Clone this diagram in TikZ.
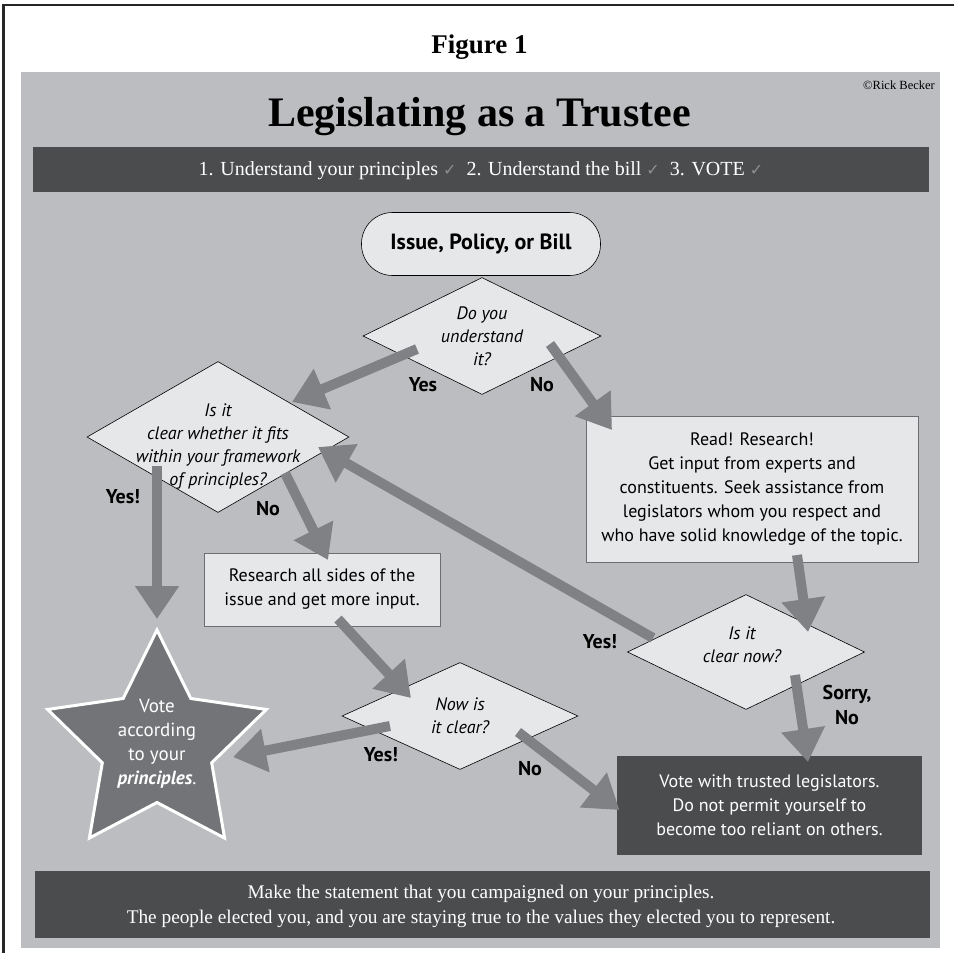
\documentclass[tikz,border=0pt]{standalone}
\usepackage{fontspec}
\setmainfont{Liberation Serif}
\newfontfamily\mysans{PT Sans}
\newfontfamily\chkfont{DejaVu Sans}
\usetikzlibrary{arrows.meta,shapes.geometric,calc}
\definecolor{panel}{HTML}{BCBDC0}
\definecolor{darkbar}{HTML}{4B4C4E}
\definecolor{lightbox}{HTML}{E6E7E8}
\definecolor{arrowgray}{HTML}{808184}
\definecolor{stargray}{HTML}{737477}
\definecolor{checkgray}{HTML}{8E8F92}
\definecolor{boxedge}{HTML}{6D6E71}
\newcommand{\chk}{{\chkfont\fontsize{16}{16}\selectfont\color{checkgray}\char"2713}}
\begin{document}
\begin{tikzpicture}[x=1pt,y=-1pt,
  decision/.style={diamond, draw=black, line width=0.6pt, fill=lightbox, inner sep=0pt},
  stepbox/.style={rectangle, draw=boxedge, line width=0.8pt, fill=lightbox, inner sep=0pt},
  darkbox/.style={rectangle, fill=darkbar, inner sep=0pt},
  txt/.style={align=center, inner sep=0pt, font=\mysans\fontsize{18}{24}\selectfont},
  itxt/.style={align=center, inner sep=0pt, font=\mysans\itshape\fontsize{18}{23}\selectfont},
  lbl/.style={inner sep=0pt, font=\mysans\bfseries\fontsize{20}{25}\selectfont},
  flow/.style={draw=arrowgray, line width=10pt, -{Triangle[length=33pt,width=42pt]}},
]
\useasboundingbox (0,0) rectangle (954,953);
\fill[white] (0,0) rectangle (954,953);
% frame
\draw[line width=2.5pt, black!85] (3.5,953) -- (3.5,5) -- (954,5);
% panel
\fill[panel] (21,72) rectangle (940,948);
\node[inner sep=0pt, anchor=base, font=\bfseries\fontsize{27}{27}\selectfont] (fig) at (479.5,53) {Figure 1};
\node[inner sep=0pt, anchor=base east, font=\fontsize{12.5}{12.5}\selectfont] (copy) at (935,89) {©Rick Becker};
\node[inner sep=0pt, anchor=base, font=\bfseries\fontsize{42}{42}\selectfont] (title) at (479.5,126) {Legislating as a Trustee};
% top bar
\node[darkbox, minimum width=896pt, minimum height=45pt] (steps) at (481,169.5) {};
\node[inner sep=0pt, anchor=base, text=white, font=\fontsize{20}{20}\selectfont] (stepst) at (481,175)
  {1. Understand your principles \chk\ \ 2. Understand the bill \chk\ \ 3. VOTE \chk};
% bottom bar
\node[darkbox, minimum width=895pt, minimum height=67pt] (stmt) at (482.5,904.5) {};
\node[align=center, inner sep=0pt, anchor=base, text=white, font=\fontsize{19.3}{25}\selectfont] (stmtt) at (481,923)
  {Make the statement that you campaigned on your principles.\\
   The people elected you, and you are staying true to the values they elected you to represent.};

% flow nodes
\node[rectangle, rounded corners=31pt, draw=black, line width=0.6pt, fill=lightbox,
      minimum width=239pt, minimum height=63pt, inner sep=0pt,
      font=\mysans\bfseries\fontsize{22}{22}\selectfont] (issue) at (481,244) {Issue, Policy, or Bill};
\node[decision, minimum width=238pt, minimum height=117pt] (d1) at (482,336) {};
\node[itxt] (d1t) at (d1.center) {Do you\\understand\\it?};
\node[decision, minimum width=262pt, minimum height=151pt] (d2) at (218,437) {};
\node[itxt] (d2t) at ([yshift=-9pt]d2.center) {Is it\\clear whether it fits\\within your framework\\of principles?};
\node[stepbox, minimum width=236pt, minimum height=73pt] (research) at (322,589.5) {};
\node[txt] (researcht) at (research.center) {Research all sides of the\\issue and get more input.};
\node[decision, minimum width=236pt, minimum height=107pt] (d3) at (460,716) {};
\node[itxt] (d3t) at (d3.center) {Now is\\it clear?};
\node[stepbox, minimum width=332pt, minimum height=146pt] (read) at (752,489) {};
\node[txt] (readt) at (read.center) {Read! Research!\\Get input from experts and\\constituents. Seek assistance from\\legislators whom you respect and\\who have solid knowledge of the topic.};
\node[decision, minimum width=237pt, minimum height=115pt] (d4) at (746,652) {};
\node[itxt] (d4t) at ([shift={(-4,-7)}]d4.center) {Is it\\clear now?};
\node[darkbox, minimum width=305pt, minimum height=99pt] (vote) at (769.5,805.5) {};
\node[txt, text=white] (votet) at (vote.center) {Vote with trusted legislators.\\Do not permit yourself to\\become too reliant on others.};
\node[star, star points=5, star point ratio=2, minimum size=230pt, inner sep=0pt,
      fill=stargray, draw=white, line width=3pt] (star) at (157,745) {};
\node[txt, text=white, font=\mysans\fontsize{19}{24}\selectfont] (start) at (157,744) {Vote\\according\\to your\\{\bfseries\itshape principles}.};

% labels
\node[lbl] (l1) at (423,385) {Yes};
\node[lbl] (l2) at (542,385) {No};
\node[lbl] (l3) at (123,497) {Yes!};
\node[lbl] (l4) at (268,509) {No};
\node[lbl] (l5) at (381,755) {Yes!};
\node[lbl] (l6) at (530,769) {No};
\node[lbl] (l7) at (600,642) {Yes!};
\node[lbl, align=center] (l8) at (847,705) {Sorry,\\No};

% connectors
\draw[flow] ([shift={(-65,13)}]d1.center) -- ([shift={(74,-35)}]d2.center);
\draw[flow] ([shift={(68,8)}]d1.center) -- ([shift={(-140,-59)}]read.center);
\draw[flow] ([shift={(-61,29)}]d2.center) -- ([shift={(0,-126)}]star.center);
\draw[flow] ([shift={(67,36)}]d2.center) -- ([shift={(6,-29.5)}]research.center);
\draw[flow] ([shift={(16,29.5)}]research.center) -- ([shift={(-49,-18)}]d3.center);
\draw[flow] ([shift={(-70,10)}]d3.center) -- ([shift={(76,12)}]star.center);
\draw[flow] ([shift={(58,16)}]d3.center) -- ([shift={(-150,4.5)}]vote.center);
\draw[flow] ([shift={(45,66)}]read.center) -- ([shift={(62,-20)}]d4.center);
\draw[flow] ([shift={(-93,-14)}]d4.center) -- ([shift={(100,10)}]d2.center);
\draw[flow] ([shift={(49,23)}]d4.center) -- ([shift={(38.5,-43.5)}]vote.center);
\end{tikzpicture}
\end{document}
